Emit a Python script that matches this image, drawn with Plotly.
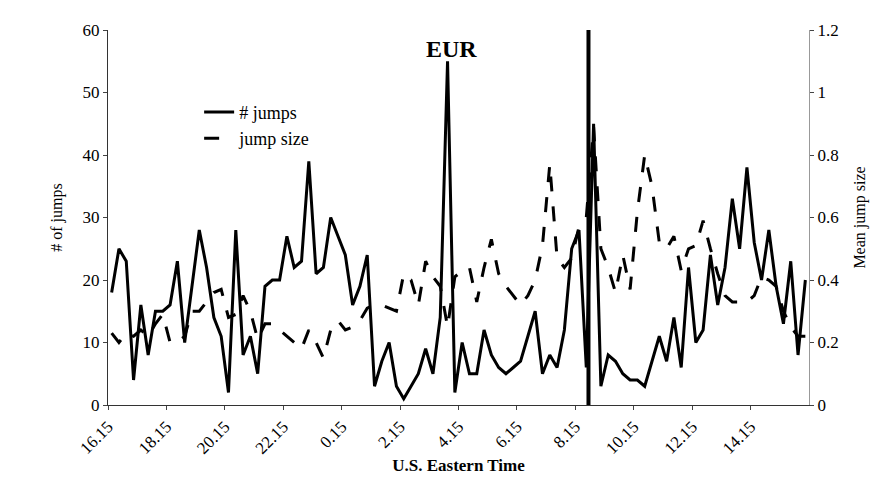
import plotly.graph_objects as go

# 15-minute intervals starting 16.00 US Eastern, 96 slots
slot = list(range(96))
tick_pos = [0, 8, 16, 24, 32, 40, 48, 56, 64, 72, 80, 88]
tick_labels = ["16.15", "18.15", "20.15", "22.15", "0.15", "2.15", "4.15",
               "6.15", "8.15", "10.15", "12.15", "14.15"]

n_jumps = [18, 25, 23, 4, 16, 8, 15, 15, 16, 23, 10, 19, 28, 22, 14, 11,
           2, 28, 8, 11, 5, 19, 20, 20, 27, 22, 23, 39, 21, 22, 30, 27,
           24, 16, 19, 24, 3, 7, 10, 3, 1, 3, 5, 9, 5, 14, 55, 2,
           10, 5, 5, 12, 8, 6, 5, 6, 7, 11, 15, 5, 8, 6, 12, 25,
           28, 6, 45, 3, 8, 7, 5, 4, 4, 3, 7, 11, 7, 14, 6, 22,
           10, 12, 24, 16, 22, 33, 25, 38, 26, 20, 28, 19, 13, 23, 8, 20]

jump_size = [0.23, 0.2, 0.23, 0.22, 0.24, 0.22, 0.26, 0.29, 0.2, 0.2, 0.22, 0.3,
             0.3, 0.33, 0.36, 0.37, 0.28, 0.29, 0.35, 0.3, 0.21, 0.26, 0.26, 0.24,
             0.22, 0.2, 0.18, 0.24, 0.2, 0.15, 0.24, 0.27, 0.24, 0.25, 0.27, 0.31,
             0.32, 0.32, 0.31, 0.3, 0.42, 0.4, 0.32, 0.46, 0.41, 0.38, 0.25, 0.41,
             0.43, 0.44, 0.33, 0.44, 0.53, 0.42, 0.38, 0.35, 0.32, 0.35, 0.4, 0.51,
             0.77, 0.47, 0.44, 0.47, 0.57, 0.6, 0.89, 0.5, 0.44, 0.36, 0.48, 0.37,
             0.62, 0.8, 0.7, 0.52, 0.5, 0.54, 0.43, 0.5, 0.51, 0.59, 0.5, 0.42,
             0.35, 0.33, 0.33, 0.33, 0.35, 0.41, 0.4, 0.38, 0.3, 0.25, 0.22, 0.22]

event_slot = 65.8  # news marker line

x = [s + 0.5 for s in slot]
font = "Liberation Serif"

fig = go.Figure()
fig.add_trace(go.Scatter(x=x, y=n_jumps, mode="lines", name="# jumps",
                         line=dict(color="black", width=3)))
fig.add_trace(go.Scatter(x=x, y=jump_size, mode="lines", name="jump size", yaxis="y2",
                         line=dict(color="black", width=3, dash="longdash")))

fig.add_shape(type="line", x0=event_slot, x1=event_slot, y0=0, y1=1, yref="paper",
              line=dict(color="black", width=4))

fig.update_layout(
    width=889, height=483,
    margin=dict(l=100, r=88, t=22, b=86),
    plot_bgcolor="white", paper_bgcolor="white",
    font=dict(family=font, size=17, color="black"),
    showlegend=True,
    legend=dict(x=0.13, y=0.83, xanchor="left", yanchor="top", bgcolor="rgba(0,0,0,0)",
                font=dict(size=18), tracegroupgap=5),
    xaxis=dict(range=[0, 96], tickvals=tick_pos, ticktext=tick_labels, tickangle=-45,
               showgrid=False, showline=True, linecolor="#333", ticks="outside",
               ticklen=4, zeroline=False,
               title=dict(text="<b>U.S. Eastern Time</b>", standoff=2, font=dict(size=17))),
    yaxis=dict(range=[0, 60], dtick=10, showgrid=False, showline=True, linecolor="#333",
               ticks="outside", ticklen=4, zeroline=False,
               title=dict(text="# of jumps", font=dict(size=16))),
    yaxis2=dict(range=[0, 1.2], dtick=0.2, overlaying="y", side="right", showgrid=False,
                showline=True, linecolor="#999", ticks="outside", ticklen=4,
                tickformat="~g", zeroline=False,
                title=dict(text="Mean jump size", font=dict(size=16))),
    annotations=[dict(text="<b>EUR</b>", x=0.49, y=0.99, xref="paper", yref="paper",
                      showarrow=False, font=dict(size=24, family=font))],
)

fig.write_html("out.html")
